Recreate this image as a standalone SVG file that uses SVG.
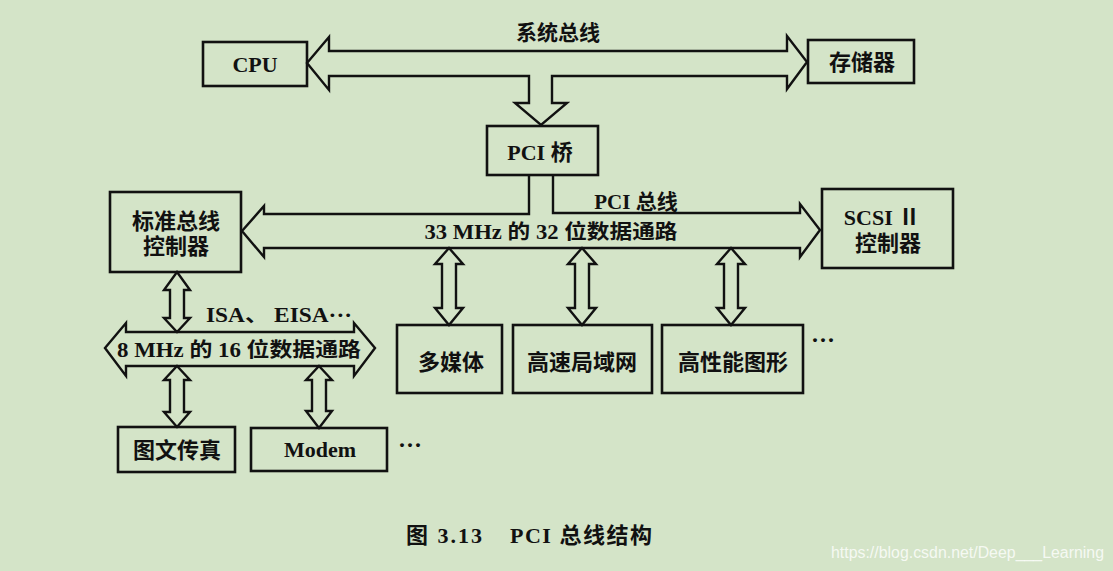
<svg xmlns="http://www.w3.org/2000/svg" width="1113" height="571" viewBox="0 0 1113 571">
<style>
.bg{fill:#d4e4c8}
.box{fill:none;stroke:#111;stroke-width:2.6}
.conn{fill:none;stroke:#111;stroke-width:2.4;stroke-linejoin:miter}
.t{font-family:"Liberation Serif","Noto Sans CJK SC",serif;font-weight:bold;font-size:20px;fill:#111;text-anchor:middle}
.lb{font-size:22px}
.bl{font-size:21px}
.cap{font-size:22px}
.dots{font-size:24px}
.wm{font-family:"Liberation Sans",Arial,sans-serif;font-size:16px;fill:#ffffff;fill-opacity:0.8}
</style>
<rect class="bg" x="0" y="0" width="1113" height="571"/>

<g id="connectors">
  <path class="conn" d="M307,63 L329,37 V51 H787 V36 L807,62 L787,89 V76 H552 V103 H567 L541,125 L515,103 H529 V76 H329 V90 Z"/>
  <path class="conn" d="M529,175 V214 H264 V206 L242,231 L264,257 V248 H800 V257 L820,230 L800,204 V213 H553 V175"/>
  <path class="conn" d="M449,248 L463,264 H456 V308 H463 L449,325 L435,308 H442 V264 H435 Z"/>
  <path class="conn" d="M582,248 L596,264 H589 V308 H596 L582,325 L568,308 H575 V264 H568 Z"/>
  <path class="conn" d="M731,248 L745,264 H738 V308 H745 L731,325 L717,308 H724 V264 H717 Z"/>
  <path class="conn" d="M177,272 L190,290 H184 V318 H190 L177,332 L164,318 H170 V290 H164 Z"/>
  <path class="conn" d="M105,348 L126,323 V332 H354 V323 L375,348 L354,376 V366 H126 V376 Z"/>
  <path class="conn" d="M177,366 L190,380 H184 V412 H190 L177,427 L164,412 H170 V380 H164 Z"/>
  <path class="conn" d="M319,366 L332,380 H326 V411 H332 L319,428 L306,411 H312 V380 H306 Z"/>
</g>

<g id="bus-labels">
  <text class="t bl" x="558" y="40">系统总线</text>
  <text class="t bl" x="636" y="209">PCI 总线</text>
  <text class="t" x="551" y="239" textLength="253" lengthAdjust="spacingAndGlyphs">33 MHz 的 32 位数据通路</text>
  <text class="t" x="279" y="322" textLength="146" lengthAdjust="spacingAndGlyphs">ISA、 EISA···</text>
  <text class="t" x="239" y="357" textLength="244" lengthAdjust="spacingAndGlyphs">8 MHz 的 16 位数据通路</text>
</g>

<g id="cpu">
  <rect class="box" x="203" y="42" width="104" height="44"/>
  <text class="t lb" x="255" y="72">CPU</text>
</g>
<g id="memory">
  <rect class="box" x="808" y="40" width="106" height="43"/>
  <text class="t lb" x="862" y="70">存储器</text>
</g>
<g id="pci-bridge">
  <rect class="box" x="487" y="126" width="111" height="49"/>
  <text class="t lb" x="540" y="160">PCI 桥</text>
</g>
<g id="std-bus-ctrl">
  <rect class="box" x="110" y="192" width="131" height="80"/>
  <text class="t lb" x="176" y="229">标准总线</text>
  <text class="t lb" x="176" y="254">控制器</text>
</g>
<g id="scsi-ctrl">
  <rect class="box" x="822" y="189" width="131" height="79"/>
  <text class="t lb" x="882" y="225">SCSI Ⅱ</text>
  <text class="t lb" x="888" y="251">控制器</text>
</g>
<g id="multimedia">
  <rect class="box" x="397" y="325" width="105" height="68"/>
  <text class="t lb" x="451" y="370">多媒体</text>
</g>
<g id="fast-lan">
  <rect class="box" x="513" y="325" width="139" height="68"/>
  <text class="t lb" x="582" y="370">高速局域网</text>
</g>
<g id="graphics">
  <rect class="box" x="662" y="325" width="141" height="68"/>
  <text class="t lb" x="733" y="370">高性能图形</text>
</g>
<g id="more-pci">
  <text class="t dots" x="823" y="348">···</text>
</g>
<g id="fax">
  <rect class="box" x="118" y="427" width="117" height="45"/>
  <text class="t lb" x="177" y="458">图文传真</text>
</g>
<g id="modem">
  <rect class="box" x="251" y="428" width="136" height="43"/>
  <text class="t lb" x="320" y="457">Modem</text>
</g>
<g id="more-isa">
  <text class="t dots" x="410" y="453">···</text>
</g>

<g id="caption">
  <text class="t cap" x="444" y="543" textLength="76" lengthAdjust="spacing">图 3.13</text>
  <text class="t cap" x="581" y="543" textLength="142" lengthAdjust="spacing">PCI 总线结构</text>
</g>
<text class="wm" x="831" y="558" textLength="273" lengthAdjust="spacingAndGlyphs">https://blog.csdn.net/Deep___Learning</text>
</svg>
